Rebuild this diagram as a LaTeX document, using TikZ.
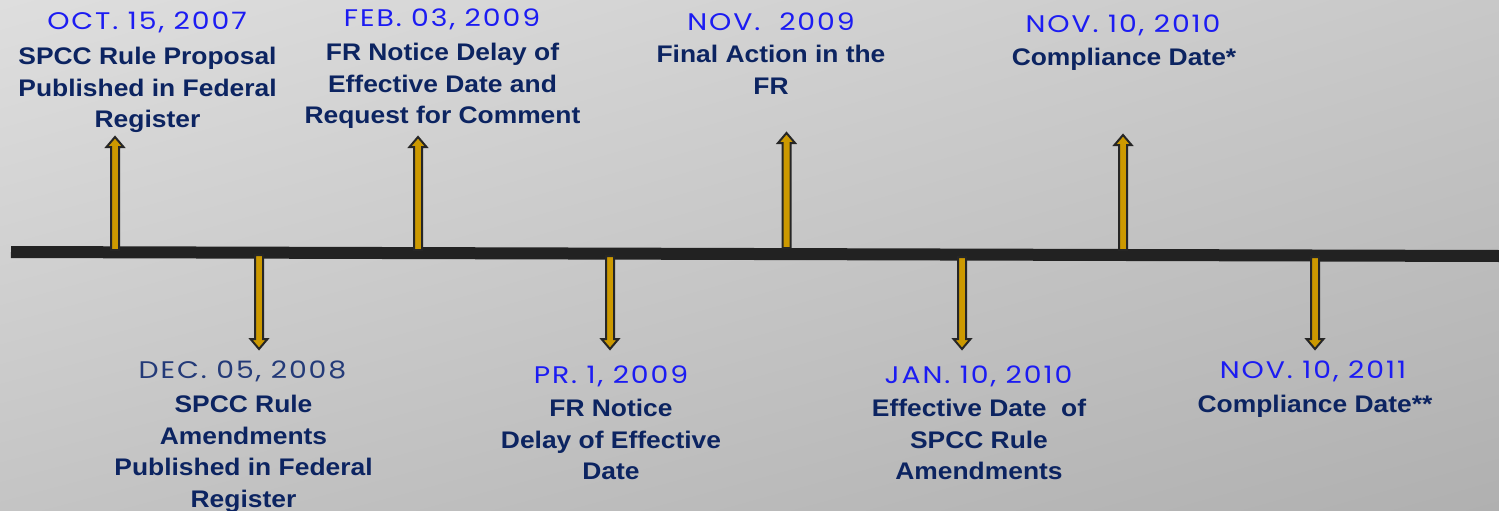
\documentclass[tikz,border=0pt]{standalone}
\usepackage{fontspec}
\usetikzlibrary{calc,shadings}
\newfontfamily\bodyf[FakeStretch=1.1]{Liberation Sans}
\newfontfamily\datef[FakeStretch=1.18,LetterSpace=8]{Poppins}
\definecolor{navy}{HTML}{0C2461}
\definecolor{datenavy}{HTML}{233A78}
\definecolor{dateblue}{HTML}{1C1CF2}
\definecolor{gold}{HTML}{CC9900}
\definecolor{outl}{HTML}{262626}
\definecolor{barc}{HTML}{222222}
\definecolor{bgul}{HTML}{DEDEDE}
\definecolor{bgur}{HTML}{C8C8C8}
\definecolor{bgll}{HTML}{C4C4C4}
\definecolor{bglr}{HTML}{B0B0B0}
\tikzset{
  datelbl/.style={anchor=base, inner sep=0pt, text=dateblue, font={\datef\fontsize{24}{28}\selectfont}},
  desc/.style={anchor=north, inner sep=0pt, align=center, text=navy, font={\bodyf\bfseries\fontsize{24}{31.5}\selectfont}},
  fatarrow/.style={draw=outl, line width=2pt, fill=gold, line join=miter},
  timebar/.style={draw=barc, line width=12pt}
}
\newcommand{\fatarr}[3]{%
  \draw[fatarrow] ($(#1)+(-4,0)$) -- ($(#2)+(-4,#3*10)$) -- ($(#2)+(-8.5,#3*10)$) -- (#2)
    -- ($(#2)+(8.5,#3*10)$) -- ($(#2)+(4,#3*10)$) -- ($(#1)+(4,0)$) -- cycle;}
\begin{document}
\begin{tikzpicture}[x=1pt,y=-1pt]
\useasboundingbox (0,0) rectangle (1499,511);
\shade[upper left=bgul, upper right=bgur, lower left=bgll, lower right=bglr]
  (0,0) rectangle (1499,511);
% timeline
\coordinate (L) at (11,252);
\coordinate (R) at (1499,256);
\draw[timebar] (L) -- (R);
% arrow base / tip coordinates
\coordinate (b1) at (115,250);   \coordinate (t1) at (115,137);
\coordinate (b2) at (418,250);   \coordinate (t2) at (418,137);
\coordinate (b3) at (786.5,248); \coordinate (t3) at (786.5,133);
\coordinate (b4) at (1123,250);  \coordinate (t4) at (1123,135);
\coordinate (b5) at (259,255);   \coordinate (t5) at (259,349);
\coordinate (b6) at (610,256);   \coordinate (t6) at (610,349);
\coordinate (b7) at (962,257);   \coordinate (t7) at (962,349);
\coordinate (b8) at (1315,257);  \coordinate (t8) at (1315,349);
\fatarr{b1}{t1}{1}
\fatarr{b2}{t2}{1}
\fatarr{b3}{t3}{1}
\fatarr{b4}{t4}{1}
\fatarr{b5}{t5}{-1}
\fatarr{b6}{t6}{-1}
\fatarr{b7}{t7}{-1}
\fatarr{b8}{t8}{-1}
% labels above
\node[datelbl] (d1) at (147,29.5) {OCT. 15, 2007};
\node[desc] (e1) at (147.5,47) {SPCC Rule Proposal\\Published in Federal\\Register};
\node[datelbl] (d2) at (442,27) {FEB. 03, 2009};
\node[desc] (e2) at (442.5,43) {FR Notice Delay of\\Effective Date and\\Request for Comment};
\node[datelbl] (d3) at (771,31) {NOV.~ 2009};
\node[desc] (e3) at (771,45) {Final Action in the\\FR};
\node[datelbl] (d4) at (1123,33) {NOV. 10, 2010};
\node[desc] (e4) at (1124,48) {Compliance Date*};
% labels below
\node[datelbl, text=datenavy] (d5) at (242.5,378) {DEC. 05, 2008};
\node[desc] (e5) at (243.5,395) {SPCC Rule\\Amendments\\Published in Federal\\Register};
\node[datelbl] (d6) at (611,383) {PR. 1, 2009};
\node[desc] (e6) at (611,399) {FR Notice\\Delay of Effective\\Date};
\node[datelbl] (d7) at (978.5,383) {JAN. 10, 2010};
\node[desc] (e7) at (979,399) {Effective Date~ of\\SPCC Rule\\Amendments};
\node[datelbl] (d8) at (1313,378) {NOV. 10, 2011};
\node[desc] (e8) at (1315,395) {Compliance Date**};
\end{tikzpicture}
\end{document}
